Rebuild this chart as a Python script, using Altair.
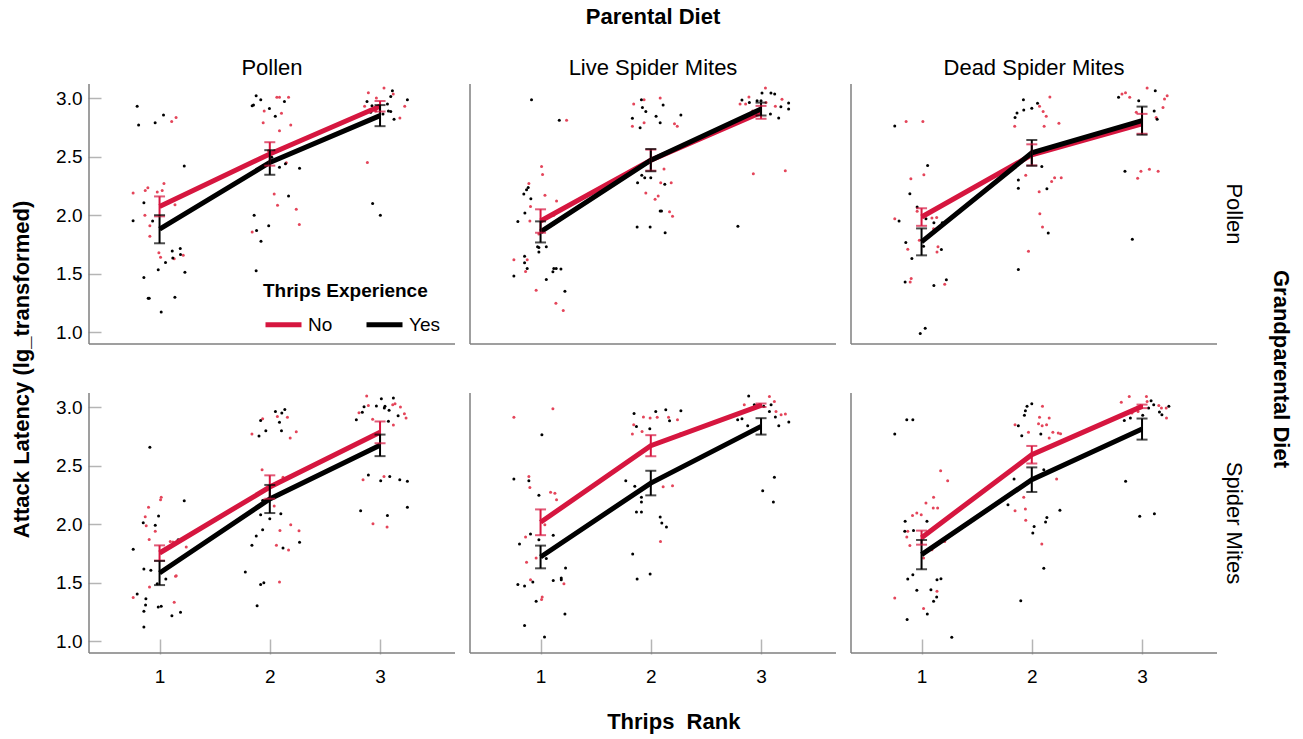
import altair as alt
import pandas as pd

FONT = "Liberation Sans"
RED = "#D6163F"
RED_PT = "#E4455A"
BLACK = "#000000"
AXIS_COL = "#7f7f7f"
TICK_COL = "#b5b5b5"

PARENTAL = ["Pollen", "Live Spider Mites", "Dead Spider Mites"]
GRAND = ["Pollen", "Spider Mites"]
GROUPS = ["No", "Yes"]
RANKS = [1, 2, 3]
Y_TICKS = [1.0, 1.5, 2.0, 2.5, 3.0]

# ---- Panel 1: parental Pollen / grandparental Pollen ----
P1_NO = [(1.11, 2.80), (1.15, 2.835), (0.76, 2.19), (0.87, 2.21), (0.894, 2.234), (0.979, 2.197), (1.024, 2.21),
         (1.04, 2.27), (1.14, 2.09), (0.867, 2.0), (0.912, 1.91), (0.912, 1.82), (0.994, 1.68), (1.009, 1.64),
         (1.133, 1.627), (1.215, 1.658),
         (1.949, 2.89), (2.064, 3.006), (2.088, 3.006), (2.17, 3.006), (2.106, 2.87), (1.94, 2.79), (2.088, 2.72),
         (2.19, 2.77), (1.988, 2.55), (2.15, 2.447), (2.04, 2.18), (2.07, 2.084), (2.24, 2.05), (2.268, 1.92),
         (1.84, 1.857),
         (3.036, 3.085), (2.894, 3.045), (2.967, 3.0), (3.12, 3.034), (3.224, 2.93), (2.86, 2.93), (2.96, 2.89),
         (3.18, 2.83), (2.885, 2.45)]
P1_YES = [(0.797, 2.93), (0.81, 2.77), (0.96, 2.79), (1.036, 2.855), (1.224, 2.42), (0.858, 2.106), (0.76, 1.953),
          (0.937, 1.95), (1.115, 1.695), (1.188, 1.715), (1.12, 1.635), (1.19, 1.664), (1.054, 1.596), (0.988, 1.533),
          (1.23, 1.513), (0.858, 1.468), (0.897, 1.29), (0.906, 1.29), (1.139, 1.30), (1.015, 1.173),
          (1.876, 3.02), (1.918, 2.986), (1.84, 2.935), (1.852, 2.94), (1.997, 2.91), (2.133, 2.97), (2.05, 2.844),
          (2.018, 2.495), (2.142, 2.44), (2.088, 2.41), (2.27, 2.40), (1.846, 2.36), (2.17, 2.163), (1.858, 2.0),
          (1.99, 1.91), (1.88, 1.87), (1.92, 1.777), (1.876, 1.525),
          (3.112, 3.062), (2.882, 2.97), (3.097, 3.014), (3.248, 2.986), (3.067, 2.95), (2.927, 2.935), (3.076, 2.89),
          (3.097, 2.886), (2.915, 2.878), (3.127, 2.82), (3.027, 2.864), (2.933, 2.10), (3.003, 2.0)]
P1_NO_MEAN, P1_NO_ERR = [2.075, 2.523, 2.93], [0.085, 0.10, 0.045]
P1_YES_MEAN, P1_YES_ERR = [1.88, 2.45, 2.85], [0.12, 0.105, 0.09]

# ---- Panel 2: parental Live Spider Mites / grandparental Pollen ----
P2_NO = [(1.236, 2.81), (1.009, 2.416), (1.018, 2.347), (0.894, 2.27), (1.04, 2.17), (1.145, 2.12), (0.909, 2.075),
         (0.903, 1.95), (1.12, 2.0), (1.115, 1.92), (0.985, 1.84), (0.758, 1.62), (0.879, 1.62), (0.864, 1.52),
         (0.96, 1.36), (1.139, 1.247), (1.206, 1.187),
         (1.939, 2.986), (2.085, 3.0), (1.845, 2.95), (1.939, 2.79), (1.833, 2.76), (2.215, 2.78), (2.24, 2.76),
         (2.12, 2.395), (2.09, 2.277), (2.185, 2.277), (1.955, 2.19), (2.067, 2.163), (2.039, 2.135), (2.17, 2.03),
         (2.197, 1.99),
         (3.04, 3.085), (2.89, 3.01), (2.81, 2.95), (2.86, 2.95), (3.045, 2.963), (3.19, 2.99), (3.13, 2.93),
         (2.924, 2.89), (2.93, 2.353), (3.22, 2.38)]
P2_YES = [(0.918, 2.986), (1.17, 2.81), (0.888, 2.237), (0.873, 2.217), (0.848, 2.18), (0.912, 2.14), (0.858, 2.018),
          (0.794, 1.947), (1.052, 1.73), (0.985, 1.723), (0.985, 1.686), (0.973, 1.73), (0.855, 1.65), (0.855, 1.594),
          (0.879, 1.545), (1.12, 1.545), (1.142, 1.545), (1.185, 1.54), (1.112, 1.517), (0.758, 1.48), (1.052, 1.45),
          (1.221, 1.35),
          (1.915, 2.986), (2.112, 2.94), (1.924, 2.92), (1.955, 2.886), (1.833, 2.827), (2.048, 2.844), (2.273, 2.855),
          (1.903, 2.746), (2.085, 2.79), (1.918, 2.34), (1.945, 2.32), (2.0, 2.32), (1.88, 2.277), (2.127, 2.263),
          (2.085, 2.036), (2.097, 2.036), (1.876, 1.90), (1.994, 1.90), (2.13, 1.85),
          (3.009, 3.043), (3.09, 3.043), (3.124, 3.034), (2.827, 2.983), (2.894, 2.963), (2.964, 2.977), (3.0, 2.977),
          (3.25, 2.957), (3.18, 2.926), (3.25, 2.906), (3.085, 2.864), (3.16, 2.83), (2.79, 1.905)]
P2_NO_MEAN, P2_NO_ERR = [1.95, 2.47, 2.878], [0.10, 0.09, 0.055]
P2_YES_MEAN, P2_YES_ERR = [1.857, 2.47, 2.906], [0.09, 0.095, 0.055]

# ---- Panel 3: parental Dead Spider Mites / grandparental Pollen ----
P3_NO = [(0.86, 2.80), (1.012, 2.80), (1.021, 2.345), (0.903, 2.31), (0.96, 2.033), (0.757, 1.97), (1.094, 1.976),
         (1.137, 1.98), (1.109, 1.885), (0.875, 1.71), (0.98, 1.786), (1.149, 1.73), (1.14, 1.686), (0.906, 1.46),
         (0.897, 1.43), (1.21, 1.41),
         (2.164, 3.009), (2.07, 2.93), (2.103, 2.886), (2.131, 2.844), (1.845, 2.76), (2.112, 2.76), (2.246, 2.784),
         (1.945, 2.34), (2.207, 2.32), (2.18, 2.288), (2.267, 2.32), (2.067, 2.20), (2.073, 2.013), (2.097, 1.90),
         (1.97, 1.692),
         (3.046, 3.085), (2.85, 3.045), (2.818, 3.034), (2.888, 3.006), (3.228, 3.02), (3.204, 2.991), (3.19, 2.92),
         (3.128, 2.835), (2.948, 2.878), (2.99, 2.376), (3.067, 2.393), (3.146, 2.376), (2.96, 2.316)]
P3_YES = [(0.757, 2.762), (1.055, 2.424), (0.894, 2.183), (0.96, 2.07), (0.796, 1.95), (1.04, 1.97), (1.112, 1.936),
          (1.188, 1.936), (0.857, 1.766), (0.912, 1.63), (1.018, 1.735), (1.18, 1.706), (0.851, 1.43), (1.112, 1.40),
          (1.225, 1.448), (0.988, 0.99), (1.033, 1.034),
          (1.924, 2.986), (2.052, 2.955), (2.0, 2.912), (1.927, 2.898), (1.866, 2.872), (1.848, 2.835), (1.903, 2.452),
          (2.091, 2.416), (1.878, 2.30), (1.878, 2.23), (2.137, 2.225), (2.149, 1.848), (1.878, 1.536),
          (3.12, 3.062), (2.787, 3.006), (2.97, 2.977), (3.11, 2.89), (3.137, 2.82), (2.845, 2.376), (2.912, 1.794)]
P3_NO_MEAN, P3_NO_ERR = [1.984, 2.515, 2.78], [0.075, 0.09, 0.085]
P3_YES_MEAN, P3_YES_ERR = [1.772, 2.532, 2.807], [0.115, 0.11, 0.12]

# ---- Panel 4: parental Pollen / grandparental Spider Mites ----
P4_NO = [(0.87, 2.064), (0.9, 2.144), (0.879, 1.987), (0.961, 1.94), (1.015, 2.229), (1.009, 2.209), (0.906, 1.87),
         (1.097, 1.853), (1.121, 1.848), (1.2, 1.87), (1.242, 1.805), (1.151, 1.56), (1.145, 1.555), (0.909, 1.464),
         (0.761, 1.373), (1.133, 1.333),
         (2.069, 2.92), (2.16, 2.912), (1.935, 2.90), (1.838, 2.77), (2.185, 2.735), (2.24, 2.79), (1.93, 2.465),
         (2.12, 2.40), (1.946, 2.206), (2.04, 2.155), (2.092, 1.947), (2.19, 1.996), (2.265, 1.944), (2.06, 1.82),
         (2.17, 1.78), (2.088, 1.506),
         (2.879, 3.094), (2.894, 3.014), (3.115, 3.02), (3.136, 3.028), (3.185, 3.0), (2.809, 2.952), (3.221, 2.943),
         (3.236, 2.906), (2.933, 2.895), (3.121, 2.846), (2.846, 2.38), (3.036, 2.408), (2.936, 2.004), (3.064, 1.976)]
P4_YES = [(0.912, 2.656), (0.761, 1.785), (0.852, 2.013), (0.991, 2.07), (0.961, 1.99), (1.224, 2.2), (1.169, 1.868),
          (0.858, 1.617), (0.921, 1.606), (1.057, 1.532), (0.979, 1.492), (0.797, 1.404), (0.876, 1.364), (0.873, 1.31),
          (0.988, 1.293), (1.015, 1.30), (0.858, 1.256), (1.112, 1.219), (1.19, 1.248), (0.858, 1.122),
          (2.051, 2.963), (2.136, 2.98), (2.109, 2.949), (1.917, 2.886), (2.088, 2.87), (1.964, 2.798), (2.106, 2.798),
          (1.902, 2.752), (1.935, 2.203), (2.1, 2.09), (1.917, 2.081), (2.0, 2.047), (1.935, 1.953), (1.877, 1.90),
          (1.838, 1.82), (2.12, 1.797), (2.27, 1.845), (1.778, 1.592), (1.946, 1.50), (1.917, 1.484), (1.885, 1.304),
          (3.012, 3.071), (3.121, 3.077), (2.855, 3.003), (2.967, 3.009), (3.039, 2.991), (3.082, 2.972), (3.045, 3.006),
          (2.839, 2.955), (3.164, 2.926), (2.785, 2.892), (3.076, 2.878), (2.894, 2.42), (3.006, 2.371), (3.088, 2.408),
          (3.179, 2.38), (3.248, 2.366), (2.824, 2.115), (3.067, 2.073), (3.248, 2.144)]
P4_NO_MEAN, P4_NO_ERR = [1.754, 2.317, 2.784], [0.065, 0.10, 0.093]
P4_YES_MEAN, P4_YES_ERR = [1.583, 2.215, 2.673], [0.103, 0.12, 0.092]

# ---- Panel 5: parental Live Spider Mites / grandparental Spider Mites ----
P5_NO = [(0.758, 2.912), (1.112, 2.986), (0.894, 2.408), (0.903, 2.314), (1.091, 2.272), (1.13, 2.263), (1.145, 2.209),
         (0.864, 1.89), (1.039, 1.996), (0.96, 1.711), (0.873, 1.674), (0.909, 1.526), (1.212, 1.492), (1.015, 1.378),
         (1.009, 1.356),
         (1.933, 2.915), (1.994, 2.906), (2.058, 2.912), (2.161, 2.912), (2.242, 2.892), (1.845, 2.849), (1.921, 2.792),
         (1.833, 2.77), (2.27, 2.772), (2.112, 2.32), (2.197, 2.329), (2.088, 1.853),
         (2.848, 3.02), (3.076, 3.091), (3.121, 3.048), (2.961, 3.014), (3.136, 2.963), (3.182, 2.935), (3.221, 2.94)]
P5_YES = [(1.012, 2.764), (0.758, 2.385), (0.894, 2.371), (0.985, 2.246), (0.909, 1.916), (0.985, 1.868), (1.115, 1.905),
          (0.809, 1.83), (1.227, 1.626), (1.052, 1.706), (1.188, 1.541), (1.115, 1.518), (1.188, 1.526), (0.93, 1.506),
          (0.794, 1.484), (0.855, 1.472), (0.96, 1.341), (1.221, 1.233), (0.855, 1.134), (1.036, 1.037),
          (1.848, 2.946), (2.045, 2.963), (2.136, 2.977), (2.273, 2.969), (2.17, 2.883), (1.87, 2.835), (1.991, 2.815),
          (1.773, 2.371), (1.855, 2.323), (1.915, 2.229), (1.915, 2.189), (1.87, 2.104), (1.915, 2.104), (2.085, 2.061),
          (2.1, 2.01), (2.142, 1.976), (1.836, 1.745), (1.994, 1.575), (1.876, 1.532),
          (2.888, 3.094), (2.939, 3.02), (3.091, 3.02), (3.024, 3.006), (3.13, 2.915), (2.788, 2.892), (2.827, 2.90),
          (3.076, 2.963), (3.161, 2.84), (3.252, 2.872), (2.879, 2.84), (3.121, 2.4), (3.015, 2.286), (3.112, 2.189)]
P5_NO_MEAN, P5_NO_ERR = [2.016, 2.67, 3.015], [0.11, 0.09, 0.015]
P5_YES_MEAN, P5_YES_ERR = [1.72, 2.351, 2.835], [0.097, 0.105, 0.07]

# ---- Panel 6: parental Dead Spider Mites / grandparental Spider Mites ----
P6_NO = [(1.173, 2.457), (1.237, 2.371), (1.109, 2.229), (1.04, 2.18), (1.106, 2.138), (1.146, 2.138), (0.957, 2.095),
         (0.918, 2.073), (0.997, 2.08), (0.875, 1.939), (0.866, 1.89), (0.894, 1.817), (1.21, 1.853), (1.094, 1.782),
         (1.018, 1.711), (1.14, 1.427), (0.757, 1.37), (1.018, 1.279),
         (2.097, 3.006), (2.07, 2.912), (2.158, 2.906), (2.061, 2.858), (2.094, 2.84), (2.134, 2.849), (1.848, 2.849),
         (1.97, 2.784), (2.191, 2.784), (2.24, 2.778), (2.261, 2.772), (2.158, 2.735), (2.225, 2.385), (1.927, 2.229),
         (1.848, 2.115), (1.942, 2.129), (1.945, 2.033), (2.091, 1.831),
         (2.884, 3.091), (2.812, 3.04), (3.04, 3.091), (3.046, 3.048), (3.152, 3.014), (3.176, 2.991), (3.219, 2.991),
         (3.222, 2.906), (2.909, 2.949), (2.964, 2.963)]
P6_YES = [(0.757, 2.77), (0.866, 2.892), (0.921, 2.892), (0.851, 2.024), (1.049, 2.024), (0.848, 1.939), (0.927, 1.945),
          (0.921, 1.569), (0.875, 1.532), (1.176, 1.535), (1.14, 1.526), (0.957, 1.435), (1.085, 1.441), (1.137, 1.378),
          (1.109, 1.341), (1.052, 1.233), (0.869, 1.185), (1.274, 1.034),
          (1.957, 3.006), (2.0, 3.028), (1.942, 2.969), (1.933, 2.929), (1.878, 2.84), (1.909, 2.755), (2.082, 2.77),
          (2.109, 2.465), (1.839, 2.385), (1.784, 2.166), (2.255, 2.118), (2.137, 2.058), (2.125, 2.018), (2.021, 1.981),
          (2.009, 1.925), (2.109, 1.623), (1.9, 1.347),
          (3.082, 3.054), (3.106, 3.02), (3.06, 2.991), (3.243, 3.006), (3.158, 2.957), (3.18, 2.935), (2.894, 2.906),
          (2.839, 2.886), (3.006, 2.929), (2.851, 2.366), (2.979, 2.067), (3.112, 2.09)]
P6_NO_MEAN, P6_NO_ERR = [1.885, 2.593, 3.006], [0.06, 0.075, 0.015]
P6_YES_MEAN, P6_YES_ERR = [1.74, 2.38, 2.812], [0.125, 0.105, 0.09]

PANELS = [
    ("Pollen", "Pollen", P1_NO, P1_YES, P1_NO_MEAN, P1_NO_ERR, P1_YES_MEAN, P1_YES_ERR),
    ("Live Spider Mites", "Pollen", P2_NO, P2_YES, P2_NO_MEAN, P2_NO_ERR, P2_YES_MEAN, P2_YES_ERR),
    ("Dead Spider Mites", "Pollen", P3_NO, P3_YES, P3_NO_MEAN, P3_NO_ERR, P3_YES_MEAN, P3_YES_ERR),
    ("Pollen", "Spider Mites", P4_NO, P4_YES, P4_NO_MEAN, P4_NO_ERR, P4_YES_MEAN, P4_YES_ERR),
    ("Live Spider Mites", "Spider Mites", P5_NO, P5_YES, P5_NO_MEAN, P5_NO_ERR, P5_YES_MEAN, P5_YES_ERR),
    ("Dead Spider Mites", "Spider Mites", P6_NO, P6_YES, P6_NO_MEAN, P6_NO_ERR, P6_YES_MEAN, P6_YES_ERR),
]

rows = []
for parental, grand, no_pts, yes_pts, no_m, no_e, yes_m, yes_e in PANELS:
    for exp, pts in (("No", no_pts), ("Yes", yes_pts)):
        for x, y in pts:
            rows.append(dict(parental=parental, grand=grand, kind="pt", exp=exp, x=x, y=y))
    for exp, means, errs in (("No", no_m, no_e), ("Yes", yes_m, yes_e)):
        for r, m, e in zip(RANKS, means, errs):
            rows.append(dict(parental=parental, grand=grand, kind="sum", exp=exp, x=r,
                             mean=m, lo=m - e, hi=m + e))
df = pd.DataFrame(rows)

W, H = 366, 260
xs = alt.Scale(domain=[0.36, 3.68], nice=False, zero=False)
ys = alt.Scale(domain=[0.9, 3.12], nice=False, zero=False)
x_axis = alt.Axis(values=RANKS, format="d", title=None, domain=False, grid=False,
                  tickSize=15, tickColor=TICK_COL, tickWidth=1.5, offset=-15, labelPadding=13,
                  labelFontSize=19, labelColor="black", labelFont=FONT)
y_axis = alt.Axis(values=Y_TICKS, format=".1f", title=None, domain=False, grid=False,
                  tickSize=13, tickColor=TICK_COL, tickWidth=1.5, offset=-13, labelPadding=6,
                  labelFontSize=19, labelColor="black", labelFont=FONT)
legend = alt.Legend(title="Thrips Experience", orient="none", legendX=174, legendY=198,
                    direction="horizontal", titleFontSize=19, titleFontWeight="bold", titleFont=FONT,
                    titleColor="black", labelFontSize=19, labelFont=FONT, labelColor="black",
                    symbolType="stroke", symbolStrokeWidth=5, symbolSize=1296, symbolOpacity=1,
                    columnPadding=23, labelOffset=4, titlePadding=3)
X = alt.X("x:Q", scale=xs, axis=x_axis)
# colour scale of the summary marks: domain taken from the data (No, Yes sorted)
COLOR = alt.Color("exp:N", scale=alt.Scale(range=[RED, BLACK]), legend=legend)

base = alt.Chart()
points = base.transform_filter("datum.kind == 'pt'").mark_circle(size=9, opacity=1).encode(
    x=X, y=alt.Y("y:Q", scale=ys, axis=y_axis),
    fill=alt.Fill("exp:N", scale=alt.Scale(domain=GROUPS, range=[RED_PT, BLACK]), legend=None),
)
summ = base.transform_filter("datum.kind == 'sum'")
lines = summ.mark_line(strokeWidth=5, opacity=1).encode(
    x=X, y=alt.Y("mean:Q", scale=ys, axis=y_axis), color=COLOR)
bars = summ.mark_rule(strokeWidth=2).encode(x=X, y=alt.Y("lo:Q", scale=ys, axis=y_axis), y2="hi:Q", color=COLOR)
cap_lo = summ.mark_tick(orient="horizontal", thickness=2, size=11).encode(
    x=X, y=alt.Y("lo:Q", scale=ys, axis=y_axis), color=COLOR)
cap_hi = summ.mark_tick(orient="horizontal", thickness=2, size=11).encode(
    x=X, y=alt.Y("hi:Q", scale=ys, axis=y_axis), color=COLOR)
one = base.transform_filter("datum.kind == 'sum' && datum.x == 1 && datum.exp == 'No'")
left_line = one.mark_rule(color=AXIS_COL, strokeWidth=1.5).encode(
    x=alt.value(0), y=alt.value(0), y2=alt.value(H))
bottom_line = one.mark_rule(color=AXIS_COL, strokeWidth=1.5).encode(
    x=alt.value(0), x2=alt.value(W), y=alt.value(H))

layered = alt.layer(points, lines, bars, cap_lo, cap_hi, left_line, bottom_line, data=df).properties(
    width=W, height=H)

facet = layered.facet(
    column=alt.Column("parental:N", sort=PARENTAL, title="Parental Diet",
                      header=alt.Header(labelFontSize=22, labelFont=FONT, labelColor="black", labelPadding=3,
                                        titleFontSize=22, titleFontWeight="bold", titleFont=FONT,
                                        titleColor="black", titlePadding=18)),
    row=alt.Row("grand:N", sort=GRAND, title="Grandparental Diet",
                header=alt.Header(labelOrient="right", titleOrient="right", labelAngle=90, titleAngle=90,
                                  labelFontSize=22, labelFont=FONT, labelColor="black", labelPadding=4,
                                  titleFontSize=22, titleFontWeight="bold", titleFont=FONT,
                                  titleColor="black", titlePadding=14)),
    spacing={"row": 47, "column": 13},
).properties(title=alt.TitleParams("Thrips\u00a0 Rank", orient="bottom", anchor="middle", fontSize=22,
                                   fontWeight="bold", font=FONT, color="black", offset=26))

chart = alt.hconcat(facet).properties(
    title=alt.TitleParams("Attack Latency (lg_transformed)", orient="left", anchor="middle", fontSize=22,
                          fontWeight="bold", font=FONT, color="black", offset=22),
    padding={"left": 10, "top": 6, "right": 5, "bottom": 5},
).configure_view(stroke=None)

chart.save("out.html", embed_options={"renderer": "svg", "actions": False})
